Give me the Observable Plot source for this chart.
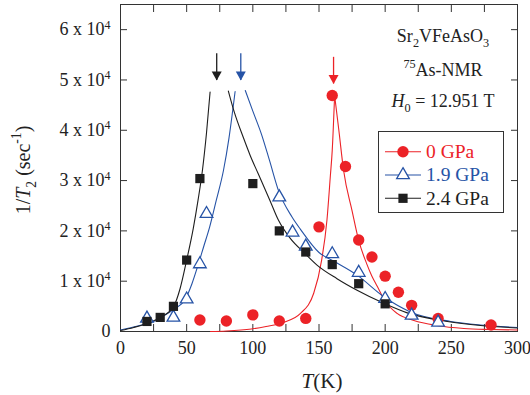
<!DOCTYPE html>
<html><head><meta charset="utf-8">
<script src="https://cdn.jsdelivr.net/npm/d3@7"></script>
<script src="https://cdn.jsdelivr.net/npm/@observablehq/plot@0.6"></script>
<style>html,body{margin:0;padding:0;background:#fff}</style>
</head><body><div id="chart"></div>
<script>
// ---- measured points ----
const T0 = [60, 80, 100, 120, 140, 150, 160, 170, 180, 190, 200, 210, 220, 240, 280];
const R0 = [2300, 2100, 3300, 2100, 2600, 20800, 46900, 32800, 18200, 14800, 11000, 7800, 5200, 2600, 1300];
const T19 = [20, 40, 50, 60, 65, 120, 130, 140, 160, 180, 200, 220, 240];
const R19 = [2600, 2800, 6400, 13400, 23400, 26700, 19700, 16900, 15400, 11700, 6500, 3200, 1800];
const T24 = [20, 30, 40, 50, 60, 100, 120, 140, 160, 180, 200];
const R24 = [2000, 2800, 5000, 14200, 30400, 29400, 20000, 15800, 13300, 9500, 5500];

// ---- fitted curves ----
const fit0LT = [68, 80, 99, 110, 123, 136, 146, 152, 156, 158.6, 160, 161.8];
const fit0LR = [0, 100, 500, 1000, 1800, 3600, 7600, 14200, 22100, 31000, 36000, 46900];
const fit0RT = [161.8, 165, 168.6, 175, 180, 186, 190, 194, 200, 209, 221.7, 239, 259.5, 280, 300];
const fit0RR = [46900, 40000, 32000, 24000, 18100, 13500, 11000, 9000, 6000, 3600, 2200, 1200, 600, 400, 300];
const fit19LT = [0, 13, 25, 35.8, 42, 48.5, 54, 58.6, 63, 67.4, 72.4, 77.8, 82, 86.6];
const fit19LR = [300, 1100, 2000, 3600, 4700, 6200, 9500, 13200, 17000, 20800, 26100, 32000, 38500, 47700];
const fit19RT = [94.3, 100, 106.8, 112.6, 119.4, 129.5, 136, 150, 161, 178.8, 199, 219, 249.5, 272, 300];
const fit19RR = [47900, 43800, 39000, 34000, 28000, 22800, 20300, 15700, 14000, 11200, 6900, 3900, 2000, 1300, 800];
const fit24LT = [0, 10, 23, 30, 40, 45, 50, 55, 58.6, 61.9, 65, 67.7];
const fit24LR = [200, 800, 1900, 2800, 4900, 8500, 14200, 20500, 26100, 32000, 39500, 47600];
const fit24RT = [81.5, 86, 92.9, 98, 104, 113, 119.4, 128.3, 139, 148.5, 163.6, 178.8, 199, 216.7, 247, 272, 300];
const fit24RR = [47800, 43600, 38500, 35000, 31400, 26000, 22100, 18500, 15600, 13200, 10500, 8200, 5600, 3700, 2000, 1200, 700];

// ---- transition arrows ----
const arrowT = [161, 90.9, 72.7];
const arrowTop = [54500, 55200, 55200];
const arrowTip = [49200, 49900, 49900];

// ---- axes / labels ----
const xTicks = d3.range(0, 301, 25);
const xLabels = [0, 50, 100, 150, 200, 250, 300];
const yTicks = [0, 10000, 20000, 30000, 40000, 50000, 60000];
const seriesNames = ["0 GPa", "1.9 GPa", "2.4 GPa"];

const FONT = '"Liberation Serif","Times New Roman",Times,serif';
const RED = "#ec2227", BLUE = "#2653a6", BLACK = "#1e1e1e";
const COLORS = [RED, BLUE, BLACK];

const pts = (T, R) => T.map((t, i) => ({T: t, R: R[i]}));
const downHead = {draw(ctx) { ctx.moveTo(0, 0); ctx.lineTo(-5, -9); ctx.lineTo(5, -9); ctx.closePath(); }};

const lineOpt = c => ({x: "T", y: "R", stroke: c, strokeWidth: 1.1, curve: "monotone-x"});
const arrows = arrowT.map((t, i) => ({T: t, top: arrowTop[i], tip: arrowTip[i]}));

const chart = Plot.plot({
  width: 530, height: 395,
  marginLeft: 120, marginRight: 13, marginTop: 4, marginBottom: 64,
  style: {fontFamily: FONT, fontSize: "18px", color: "#222", background: "white", overflow: "visible"},
  x: {domain: [0, 300]},
  y: {domain: [0, 65000]},
  marks: [
    Plot.axisX({ticks: xTicks, tickSize: -7, tickFormat: () => "", label: null, stroke: "#333"}),
    Plot.axisX({anchor: "top", ticks: xTicks, tickSize: -7, tickFormat: () => "", label: null, stroke: "#333"}),
    Plot.axisY({ticks: yTicks, tickSize: -7, tickFormat: () => "", label: null, stroke: "#333"}),
    Plot.axisY({anchor: "right", ticks: yTicks, tickSize: -7, tickFormat: () => "", label: null, stroke: "#333"}),
    Plot.axisX({ticks: xLabels, tickSize: 0, tickPadding: 10, label: null, fill: "#222"}),
    Plot.axisY({ticks: yTicks, tickSize: 0, tickPadding: 10, label: null, fill: "#222",
      tickFormat: d => d === 0 ? "0" : `${d / 1e4} x 10`}),
    Plot.frame({stroke: "#333", strokeWidth: 1}),
    Plot.line(pts(fit0LT, fit0LR), lineOpt(RED)),
    Plot.line(pts(fit0RT, fit0RR), lineOpt(RED)),
    Plot.line(pts(fit19LT, fit19LR), lineOpt(BLUE)),
    Plot.line(pts(fit19RT, fit19RR), lineOpt(BLUE)),
    Plot.line(pts(fit24LT, fit24LR), lineOpt(BLACK)),
    Plot.line(pts(fit24RT, fit24RR), lineOpt(BLACK)),
    ...arrows.map((a, i) => Plot.ruleX([a], {x: "T", y1: "top", y2: "tip", stroke: COLORS[i], strokeWidth: 1.3})),
    ...arrows.map((a, i) => Plot.dot([a], {x: "T", y: "tip", symbol: downHead, fill: COLORS[i], stroke: "none"})),
    Plot.dot(pts(T0, R0), {x: "T", y: "R", r: 5.7, fill: RED, stroke: "none"}),
    Plot.dot(pts(T19, R19), {x: "T", y: "R", r: 4.7, symbol: "triangle", fill: "white", stroke: BLUE, strokeWidth: 1.3}),
    Plot.dot(pts(T24, R24), {x: "T", y: "R", r: 5.2, symbol: "square", fill: BLACK, stroke: "none"})
  ]
});
document.getElementById("chart").appendChild(chart);

const svg = d3.select(chart);
svg.selectAll("text").attr("font-family", FONT);

// superscript exponent on y tick labels
svg.selectAll('g[aria-label="y-axis tick label"] text').each(function () {
  const t = this.textContent;
  if (t && t !== "0") {
    d3.select(this).append("tspan").attr("dy", "-0.55em").attr("font-size", "12px").text("4");
  }
});

function rich(g, x, y, parts, size, anchor, rotate) {
  const t = g.append("text").attr("x", x).attr("y", y).attr("font-family", FONT)
    .attr("font-size", size).attr("fill", "#222").attr("text-anchor", anchor || "middle");
  if (rotate) t.attr("transform", `rotate(${rotate},${x},${y})`);
  let shift = 0;
  for (const p of parts) {
    const s = t.append("tspan").text(p.t);
    const target = p.sub ? 0.3 : p.sup ? -0.45 : 0;
    if (target !== shift) s.attr("dy", `${(target - shift) * (p.sub || p.sup ? 1 / 0.68 : 1)}em`);
    if (p.sub || p.sup) s.attr("font-size", size * 0.68);
    if (p.i) s.attr("font-style", "italic");
    shift = target;
    if (p.fill) s.attr("fill", p.fill);
  }
  return t;
}
const g = svg.append("g");
// axis titles
rich(g, 322, 388, [{t: "T", i: true}, {t: "(K)"}], 21);
rich(g, 30, 170, [{t: "1/"}, {t: "T", i: true}, {t: "2", sub: true}, {t: " (sec"}, {t: "-1", sup: true}, {t: ")"}], 20, "middle", -90);

// annotation
rich(g, 443, 42, [{t: "Sr"}, {t: "2", sub: true}, {t: "VFeAsO"}, {t: "3", sub: true}], 18);
rich(g, 443, 76, [{t: "75", sup: true}, {t: "As-NMR"}], 18);
rich(g, 443, 106.5, [{t: "H", i: true}, {t: "0", sub: true}, {t: " = 12.951 T"}], 18);

// legend
const lg = svg.append("g");
lg.append("rect").attr("x", 378.5).attr("y", 131.5).attr("width", 125).attr("height", 81)
  .attr("fill", "white").attr("stroke", "#333").attr("stroke-width", 1);
const rowsY = [151.7, 175, 198.3];
const syms = [d3.symbolCircle, d3.symbolTriangle, d3.symbolSquare];
const rs = [5.7, 4.7, 5.2];
seriesNames.forEach((name, i) => {
  const y = rowsY[i];
  lg.append("line").attr("x1", 385).attr("x2", 421).attr("y1", y).attr("y2", y)
    .attr("stroke", COLORS[i]).attr("stroke-width", 1.1);
  const p = lg.append("path").attr("transform", `translate(403,${y})`)
    .attr("d", d3.symbol(syms[i], Math.PI * rs[i] * rs[i])());
  if (i === 1) p.attr("fill", "white").attr("stroke", BLUE).attr("stroke-width", 1.3);
  else p.attr("fill", COLORS[i]);
  lg.append("text").attr("x", 426).attr("y", y + 6.3).attr("font-family", FONT)
    .attr("text-anchor", "start")
    .attr("font-size", 19.5).attr("fill", COLORS[i]).text(name);
});
</script>
</body></html>
